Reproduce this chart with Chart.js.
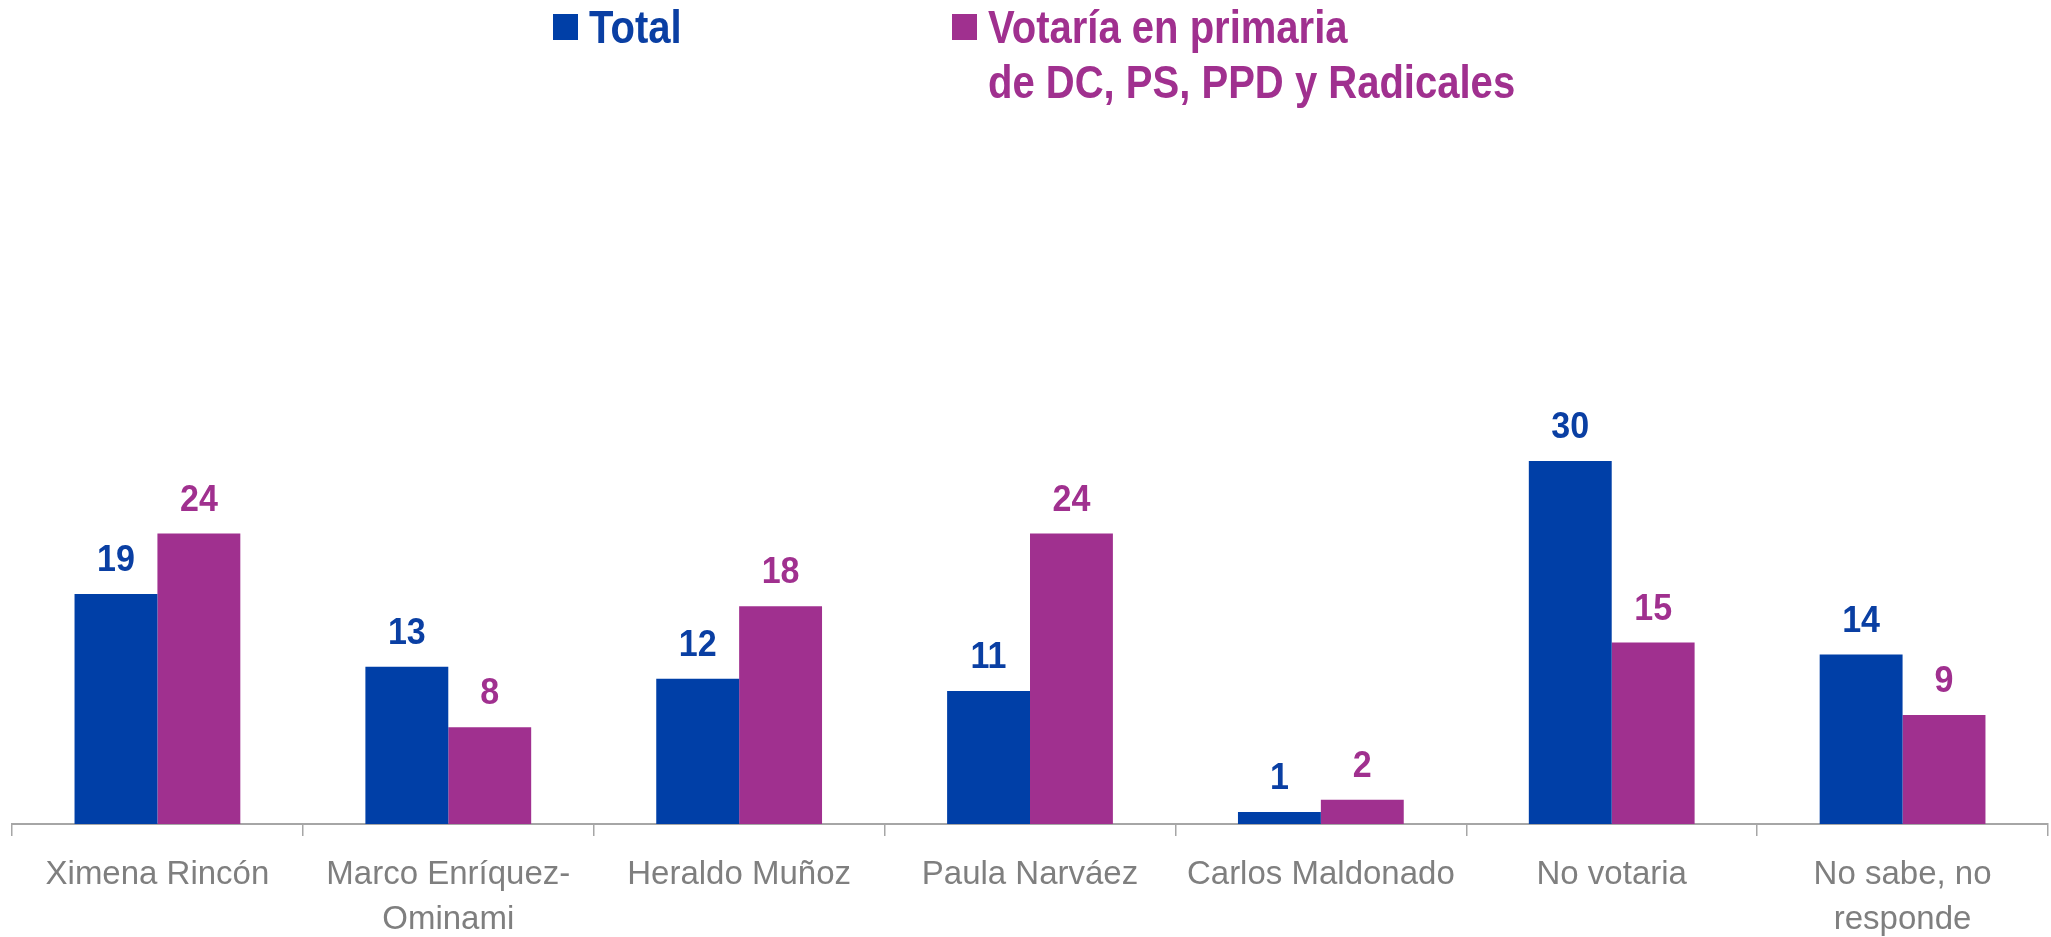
<!DOCTYPE html>
<html>
<head>
<meta charset="utf-8">
<script src="https://cdn.jsdelivr.net/npm/chart.js@4.4.1/dist/chart.umd.min.js"></script>
<style>
  html, body { margin: 0; padding: 0; background: #ffffff; }
  #wrap { width: 2051px; height: 937px; position: relative; }
</style>
</head>
<body>
<div id="wrap"><canvas id="c"></canvas></div>
<script>
const categories = [
  "Ximena Rincón",
  ["Marco Enríquez-", "Ominami"],
  "Heraldo Muñoz",
  "Paula Narváez",
  "Carlos Maldonado",
  "No votaria",
  ["No sabe, no", "responde"]
];
const seriesNames = ["Total", "Votaría en primaria de DC, PS, PPD y Radicales"];
const legendLines = [["Total"], ["Votaría en primaria", "de DC, PS, PPD y Radicales"]];
const totalValues = [19, 13, 12, 11, 1, 30, 14];
const primariaValues = [24, 8, 18, 24, 2, 15, 9];

const BLUE = '#003FA7';
const PURPLE = '#A0308F';
const FONT = "'Liberation Sans', Arial, sans-serif";

const valueLabels = {
  id: 'valueLabels',
  afterDatasetsDraw(chart) {
    const ctx = chart.ctx;
    ctx.save();
    ctx.font = 'bold 37px ' + FONT;
    ctx.textAlign = 'center';
    ctx.textBaseline = 'alphabetic';
    chart.data.datasets.forEach((ds, i) => {
      const meta = chart.getDatasetMeta(i);
      ctx.fillStyle = ds.labelColor;
      meta.data.forEach((bar, j) => {
        ctx.save();
        ctx.translate(bar.x, bar.y - 23);
        ctx.scale(0.92, 1);
        ctx.fillText(String(ds.data[j]), 0, 0);
        ctx.restore();
      });
    });
    ctx.restore();
  }
};

const customLegend = {
  id: 'customLegend',
  afterDraw(chart, args, opts) {
    const ctx = chart.ctx;
    ctx.save();
    ctx.font = 'bold 46px ' + FONT;
    ctx.textBaseline = 'alphabetic';
    ctx.textAlign = 'left';
    chart.data.datasets.forEach((ds, i) => {
      const x = opts.xs[i];
      ctx.fillStyle = ds.backgroundColor;
      ctx.fillRect(x, 14, 25, 26);
      ctx.fillStyle = ds.labelColor;
      legendLines[i].forEach((line, k) => {
        ctx.save();
        ctx.translate(x + 36, 43 + k * 55);
        ctx.scale(0.87, 1);
        ctx.fillText(line, 0, 0);
        ctx.restore();
      });
    });
    ctx.restore();
  }
};

new Chart(document.getElementById('c'), {
  type: 'bar',
  data: {
    labels: categories,
    datasets: [
      { label: seriesNames[0], data: totalValues, backgroundColor: BLUE, labelColor: '#0A3FA3' },
      { label: seriesNames[1], data: primariaValues, backgroundColor: PURPLE, labelColor: PURPLE }
    ]
  },
  options: {
    responsive: true,
    maintainAspectRatio: false,
    animation: false,
    layout: { padding: { top: 98, left: 12, right: 3, bottom: 0 } },
    datasets: { bar: { barPercentage: 1.0, categoryPercentage: 0.57 } },
    plugins: {
      legend: { display: false },
      tooltip: { enabled: false },
      customLegend: { xs: [553, 952] }
    },
    scales: {
      x: {
        afterFit(scale) { scale.height = 113; },
        grid: { display: true, offset: true, drawOnChartArea: false, tickLength: 12, color: '#A6A6A6', lineWidth: 1.5 },
        border: { display: true, color: '#A6A6A6', width: 2 },
        ticks: { color: '#7F7F7F', font: { family: FONT, size: 33, lineHeight: 1.35 }, padding: 17, maxRotation: 0, autoSkip: false }
      },
      y: { display: false, min: 0, max: 60 }
    }
  },
  plugins: [valueLabels, customLegend]
});
</script>
</body>
</html>
